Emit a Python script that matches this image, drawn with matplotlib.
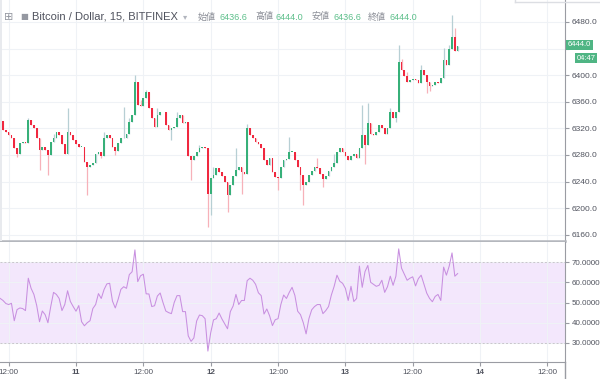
import numpy as np
import matplotlib.pyplot as plt
from matplotlib.ticker import FormatStrFormatter
from matplotlib.lines import Line2D
from matplotlib.patches import Rectangle

plt.rcParams['font.family'] = ['Liberation Sans', 'DejaVu Sans', 'Noto Sans CJK JP']

# 30-minute closes (first candle at the 10th 10:30)
closes = [
    6331, 6318, 6314, 6310, 6305, 6290, 6282, 6298, 6300, 6298,
    6333, 6325, 6320, 6305, 6287, 6292, 6288, 6280, 6300, 6305,
    6315, 6310, 6296, 6282, 6315, 6310, 6303, 6296, 6292, 6292,
    6270, 6262, 6265, 6268, 6282, 6285, 6278, 6305, 6310, 6305,
    6292, 6286, 6298, 6305, 6306, 6312, 6330, 6340, 6390, 6355,
    6354, 6365, 6375, 6350, 6335, 6322, 6340, 6344, 6345, 6325,
    6318, 6320, 6322, 6335, 6340, 6328, 6330, 6278, 6272, 6278,
    6284, 6290, 6292, 6290, 6222, 6245, 6250, 6260, 6255, 6248,
    6240, 6220, 6235, 6248, 6258, 6262, 6255, 6252, 6320, 6310,
    6305, 6300, 6296, 6290, 6272, 6265, 6275, 6255, 6247, 6245,
    6262, 6272, 6274, 6285, 6285, 6272, 6262, 6250, 6235, 6240,
    6250, 6256, 6262, 6260, 6252, 6244, 6248, 6256, 6262, 6268,
    6285, 6290, 6285, 6278, 6272, 6278, 6282, 6276, 6290, 6310,
    6295, 6328, 6312, 6310, 6314, 6325, 6320, 6312, 6320, 6345,
    6335, 6345, 6420, 6408, 6398, 6390, 6392, 6394, 6392, 6388,
    6408, 6400, 6390, 6384, 6385, 6390, 6388, 6395, 6423, 6415,
    6440, 6457, 6436.6, 6444.0]
first_open = 6335

# visible wicks (candle index -> price)
wick_high = {0: 6338, 10: 6336, 19: 6312, 24: 6350, 37: 6314, 44: 6352, 46: 6336,
             48: 6400, 50: 6363, 52: 6378, 56: 6350, 63: 6345, 71: 6295, 76: 6262,
             84: 6290, 88: 6326, 103: 6307, 113: 6275, 119: 6282, 129: 6355,
             131: 6358, 139: 6350, 142: 6445, 143: 6425, 145: 6405, 150: 6415,
             158: 6441, 160: 6446, 161: 6490, 162: 6471}
wick_low = {6: 6277, 14: 6257, 17: 6250, 31: 6220, 36: 6275, 41: 6280, 61: 6303,
            68: 6242, 74: 6172, 75: 6190, 81: 6194, 86: 6222, 99: 6228, 107: 6227,
            108: 6205, 115: 6232, 130: 6266, 141: 6330, 152: 6373, 153: 6376}

rsi = [
    52, 51, 49.5, 49, 49.6, 41, 46.5, 47.3, 47, 46,
    62, 57, 54, 48.5, 40.5, 45.8, 44, 40, 48, 55,
    54, 52, 46, 49, 55.8, 50.5, 48, 45.7, 48.5, 40.5,
    38.5, 40, 41, 47, 49, 54.4, 52, 56.4, 59.2, 59.5,
    50.7, 47.3, 51.5, 56.5, 57.8, 57, 63.8, 65.2, 76, 60.3,
    63.2, 64, 54.3, 54.2, 48, 48.4, 53.2, 54.7, 50, 45.8,
    45, 44.5, 50, 53.4, 53.4, 45.5, 45.5, 33.5, 30.8, 32.5,
    40.9, 43.8, 43.5, 42, 26, 35, 41.4, 42, 44.8, 41.9,
    39.5, 37, 45.5, 48.3, 54, 49, 51, 51, 60.8, 62,
    61, 59, 54.8, 53.4, 44.3, 46.8, 43.4, 38.6, 41.5, 42,
    49, 53.7, 52, 55, 57.5, 53.5, 45.7, 44, 40, 34.5,
    42, 46.4, 48, 49, 49, 44.5, 46, 48, 53.7, 58,
    63.5, 60.5, 59.5, 57, 51, 58, 50.5, 52, 68, 57.5,
    65.3, 68.3, 60, 59, 58, 58.5, 61, 55, 57.8, 63,
    58.5, 63, 76.5, 67, 64, 61, 62, 62.7, 58.2, 61.8,
    63.5, 59, 54.6, 52, 50.4, 53, 54, 51, 67.5, 63.5,
    68, 74.5, 63, 64.3]

start_hour = 10.5   # hours from the 10th 00:00
step_hour = 0.5
tick_hours = [12, 24, 36, 48, 60, 72, 84, 96, 108]
tick_labels = ["12:00", "11", "12:00", "12", "12:00", "13", "12:00", "14", "12:00"]
price_ticks = [6160, 6200, 6240, 6280, 6320, 6360, 6400, 6440, 6480]
hidden_price_tick = 6440   # sits under the last-price tag
rsi_ticks = [30, 40, 50, 60, 70]
header_fields = [("始値", "6436.6"), ("高値", "6444.0"), ("安値", "6436.6"), ("終値", "6444.0")]
last_price = "6444.0"
countdown = "04:47"

UP, DOWN = "#37b079", "#f0283f"
UP_WICK, DOWN_WICK = "#b7cfd4", "#f7b1b9"
GRID = "#eff2f6"
TXT = "#50535e"
BOX = "#4fb584"

W, H = 600, 379
fx = lambda px: px / W
fy = lambda py: 1 - py / H

closes = np.array(closes, float)
opens = np.concatenate([[first_open], closes[:-1]])
hours = start_hour + step_hour * np.arange(len(closes))
highs = np.maximum(opens, closes)
lows = np.minimum(opens, closes)
body_low = lows.copy()
for i, v in wick_high.items():
    highs[i] = max(highs[i], v)
for i, v in wick_low.items():
    lows[i] = min(lows[i], v)
up = closes >= opens

fig = plt.figure(figsize=(6, 3.79), dpi=100)
ax = fig.add_axes([0, fy(241), fx(565), 1 - fy(241)])
ax2 = fig.add_axes([0, fy(362), fx(565), fy(242) - fy(362)])

# price panel
ax.vlines(hours, lows, highs, colors=np.where(up, UP_WICK, DOWN_WICK), lw=0.9, zorder=2)
ax.bar(hours, np.maximum(np.abs(closes - opens), 0.8), bottom=body_low, width=0.3,
       color=np.where(up, UP, DOWN), lw=0, zorder=3)
ax.set_xlim(10.46, 111.13)
ax.set_ylim(6150.6, 6513)
ax.set_xticks(tick_hours)
ax.set_yticks(price_ticks)
ax.set_yticklabels(["" if p == hidden_price_tick else f"{p:.1f}" for p in price_ticks])
ax.yaxis.tick_right()
ax.tick_params(axis='x', length=0, labelbottom=False)
ax.tick_params(axis='y', length=3, width=0.8, color='#9a9ca3', labelsize=6, labelcolor=TXT, pad=2)
ax.grid(True, color=GRID, lw=0.8)
ax.set_axisbelow(True)
for s in ['top', 'left']:
    ax.spines[s].set_visible(False)
ax.spines['right'].set_color('#9a9ca3')
ax.spines['bottom'].set_color('#b4b7bd')
ax.spines['bottom'].set_linewidth(1.8)

# RSI panel
ax2.axhspan(30, 70, color='#f3e7fc', lw=0, zorder=0)
for lvl in (30, 70):
    ax2.axhline(lvl, color='#c9c5cc', lw=0.7, dashes=(2, 2), zorder=1)
ax2.plot(hours, rsi, color='#c88fe0', lw=0.75, zorder=3)
ax2.set_xlim(10.46, 111.13)
ax2.set_ylim(20.6, 79.9)
ax2.set_xticks(tick_hours)
ax2.set_xticklabels(tick_labels)
for lab, txt in zip(ax2.get_xticklabels(), tick_labels):
    if ':' not in txt:
        lab.set_fontweight('bold')
ax2.set_yticks(rsi_ticks)
ax2.yaxis.tick_right()
ax2.yaxis.set_major_formatter(FormatStrFormatter('%.4f'))
ax2.tick_params(axis='both', length=3, width=0.8, color='#9a9ca3', labelsize=5.8, labelcolor=TXT, pad=2)
ax2.grid(True, color=GRID, lw=0.8)
ax2.set_axisbelow(True)
for s in ['top', 'left']:
    ax2.spines[s].set_visible(False)
ax2.spines['right'].set_color('#9a9ca3')
ax2.spines['bottom'].set_color('#9a9ca3')

fig.add_artist(Line2D([fx(565), fx(565)], [fy(362), 0], color='#9a9ca3', lw=1))
fig.add_artist(Rectangle((0, fy(241)), fx(2), 1 - fy(241), color='#e8eaee', lw=0))
fig.add_artist(Line2D([fx(515), 1], [fy(1.5), fy(1.5)], color='#dcdee3', lw=1))
fig.add_artist(Line2D([fx(515), fx(515)], [1, fy(1.5)], color='#dcdee3', lw=1))

# header
base = fy(19.5)
fig.text(fx(4), base, "⊞", color='#9598a1', fontsize=8, va='baseline', family='DejaVu Sans')
fig.text(fx(20), base, "■", color='#9598a1', fontsize=6, va='baseline', family='DejaVu Sans')
fig.text(fx(32), base, "Bitcoin / Dollar, 15, BITFINEX", color=TXT, fontsize=8, va='baseline')
fig.text(fx(183), base, "▾", color='#b2b5be', fontsize=6, va='baseline', family='DejaVu Sans')
for (lab, val), px in zip(header_fields, [198, 255, 312, 368]):
    fig.text(fx(px), base, lab, color='#8a8d96', fontsize=6.5, va='baseline', family='Noto Sans CJK JP')
    fig.text(fx(px + 21), base, val, color='#5cbf8a', fontsize=6.5, va='baseline')

# last price tags on the axis
fig.text(fx(568), fy(45), last_price, color='white', fontsize=5.5, ha='left', va='center',
         bbox=dict(boxstyle='square,pad=0.22', fc=BOX, ec='none'))
fig.text(fx(595.5), fy(58), countdown, color='white', fontsize=5.5, ha='right', va='center',
         bbox=dict(boxstyle='square,pad=0.22', fc=BOX, ec='none'))

fig.savefig('out.png', dpi=100)
